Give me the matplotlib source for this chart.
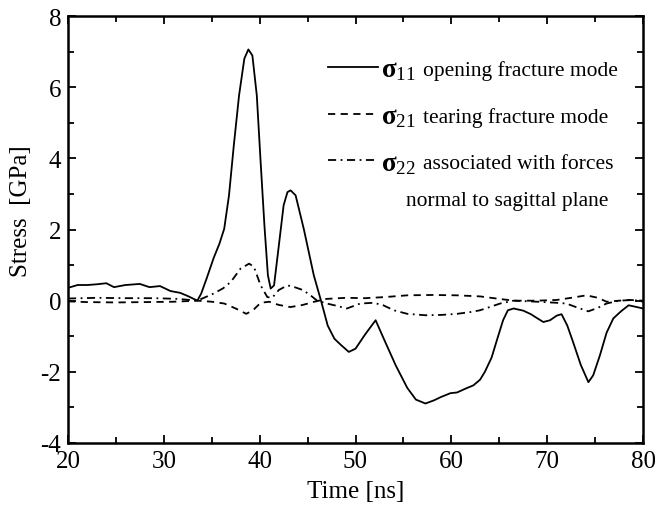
import matplotlib
matplotlib.use("Agg")
import matplotlib.pyplot as plt
from matplotlib.ticker import MultipleLocator

plt.rcParams['font.family'] = ['Liberation Serif', 'DejaVu Serif']
plt.rcParams['mathtext.fontset'] = 'custom'
plt.rcParams['mathtext.rm'] = 'Liberation Serif'
plt.rcParams['mathtext.bf'] = 'Liberation Serif:bold'
plt.rcParams['mathtext.it'] = 'Liberation Serif:italic'

# sigma_11 - opening fracture mode
t11 = [20, 21, 22, 23, 24, 24.8, 26, 27.5, 28.5, 29.6, 30.7, 31.7, 32.5, 33.5,
       33.9, 34.5, 35.2, 35.8, 36.3, 36.8, 37.3, 37.85, 38.4, 38.82, 39.24, 39.7,
       40.1, 40.5, 40.86, 41.15, 41.5, 42.0, 42.5, 42.9, 43.23, 43.75, 44.6, 45.65,
       46.4, 47.1, 47.8, 48.5, 49.3, 50.0, 51.0, 52.1, 53.0, 54.2, 55.4, 56.3, 57.3,
       58.2, 58.9, 59.9, 60.6, 61.5, 62.3, 63.0, 63.5, 64.2, 64.8, 65.4, 65.9, 66.5,
       67.5, 68.3, 69.0, 69.6, 70.3, 71.0, 71.5, 72.1, 72.7, 73.5, 74.3, 74.8, 75.5,
       76.2, 76.9, 77.7, 78.5, 79.2, 80]
s11 = [0.36, 0.44, 0.44, 0.46, 0.49, 0.38, 0.44, 0.47, 0.38, 0.41, 0.27, 0.22, 0.13, 0.0,
       0.2, 0.65, 1.2, 1.6, 2.02, 2.96, 4.36, 5.77, 6.8, 7.06, 6.89, 5.77,
       3.9, 2.1, 0.71, 0.34, 0.43, 1.55, 2.68, 3.05, 3.1, 2.96, 2.02, 0.71,
       0.0, -0.7, -1.07, -1.25, -1.44, -1.35, -0.95, -0.55, -1.1, -1.82, -2.45, -2.78, -2.89,
       -2.8, -2.71, -2.6, -2.58, -2.47, -2.38, -2.22, -2.0, -1.6, -1.07, -0.55, -0.27, -0.22,
       -0.28, -0.38, -0.5, -0.6, -0.55, -0.42, -0.38, -0.7, -1.16, -1.8, -2.29, -2.1, -1.54,
       -0.9, -0.5, -0.3, -0.13, -0.17, -0.22]

# sigma_21 - tearing fracture mode
t21 = [20, 22, 25, 28, 31, 33.5, 35, 36.3, 37.5, 38.6, 39.3, 40.1, 41, 42, 43.2,
       44.5, 45.7, 47, 49, 51, 53, 55.4, 58, 60.6, 63, 65, 66.5, 69, 71, 72.5,
       74.1, 75.3, 76.2, 77.5, 78.6, 80]
s21 = [-0.02, -0.04, -0.05, -0.04, -0.03, 0.0, -0.03, -0.08, -0.22, -0.37, -0.27, -0.06,
       -0.03, -0.12, -0.18, -0.12, -0.03, 0.05, 0.08, 0.07, 0.1, 0.15, 0.16, 0.15, 0.12,
       0.05, 0.0, 0.0, 0.02, 0.08, 0.15, 0.08, -0.03, 0.0, 0.02, 0.0]

# sigma_22 - forces normal to sagittal plane
t22 = [20, 23, 26, 29, 31.5, 33.5, 35.2, 36.2, 37.0, 38.0, 38.9, 39.4, 40.1, 40.8, 41.3,
       42.0, 42.9, 43.75, 44.5, 45.3, 46.0, 47.0, 47.8, 49.1, 50.5, 51.9, 52.9, 54.0,
       55.4, 57.3, 59.0, 60.6, 62.0, 63.0, 64.0, 65.1, 66.5, 69.0, 71.0, 72.0, 73.2,
       74.3, 75.3, 76.2, 77.5, 79.0, 80]
s22 = [0.06, 0.08, 0.07, 0.07, 0.05, 0.0, 0.2, 0.35, 0.53, 0.9, 1.04, 0.95, 0.43, 0.1, 0.08,
       0.3, 0.43, 0.37, 0.3, 0.15, 0.0, -0.08, -0.13, -0.22, -0.08, -0.06, -0.13, -0.27,
       -0.37, -0.41, -0.4, -0.37, -0.32, -0.27, -0.18, -0.08, 0.0, -0.03, -0.06, -0.08, -0.2,
       -0.3, -0.2, -0.08, 0.0, 0.02, -0.03]

symbols = [r'$\mathbf{\sigma}_{11}$', r'$\mathbf{\sigma}_{21}$', r'$\mathbf{\sigma}_{22}$']
descriptions = ['opening fracture mode', 'tearing fracture mode', 'associated with forces']
extra_line = 'normal to sagittal plane'

fig = plt.figure(figsize=(6.55, 5.10), dpi=100)
ax = fig.add_axes([68 / 655, 1 - 444 / 510, 575 / 655, 427 / 510])

lw = 1.3
ax.plot(t11, s11, color='black', lw=lw, label=symbols[0])
ax.plot(t21, s21, color='black', lw=lw, dashes=(4, 3), label=symbols[1])
ax.plot(t22, s22, color='black', lw=lw, dashes=(4.5, 2.5, 1, 2.5), label=symbols[2])

ax.set_xlim(20, 80)
ax.set_ylim(-4, 8)
ax.xaxis.set_major_locator(MultipleLocator(10))
ax.xaxis.set_minor_locator(MultipleLocator(5))
ax.yaxis.set_major_locator(MultipleLocator(2))
ax.yaxis.set_minor_locator(MultipleLocator(1))
ax.tick_params(which='both', direction='in', top=True, right=True, width=1.3, labelsize=18)
ax.tick_params(which='major', length=6, pad=5)
ax.tick_params(which='minor', length=4)
for sp in ax.spines.values():
    sp.set_linewidth(1.8)

ax.set_yticks([-4, -2, 0, 2, 4, 6, 8])
ax.set_yticklabels(['-4', '-2', '0', '2', '4', '6', '8'])

ax.set_xlabel('Time [ns]', fontsize=18, labelpad=6)
ax.set_ylabel('Stress  [GPa]', fontsize=18)
ax.yaxis.set_label_coords(-0.062, 0.546)

leg = ax.legend(loc='upper left', bbox_to_anchor=(0.452, 0.903), frameon=False,
                fontsize=19.5, handlelength=1.85, handletextpad=0.1,
                labelspacing=0.8, borderpad=0, borderaxespad=0)
leg.set_zorder(5)

desc_texts = []
for txt, desc in zip(leg.get_texts(), descriptions):
    d = ax.annotate(desc, xy=(1, 0.3), xycoords=txt, xytext=(5, 0),
                    textcoords='offset points', ha='left', va='baseline',
                    fontsize=15.5, zorder=6)
    desc_texts.append(d)

ax.annotate(extra_line, xy=(0, 0), xycoords=desc_texts[2], xytext=(-12, -22.5),
            textcoords='offset points', ha='left', va='baseline',
            fontsize=15.5, zorder=7)

fig.canvas.draw()
fig.savefig('out.png', dpi=100)
